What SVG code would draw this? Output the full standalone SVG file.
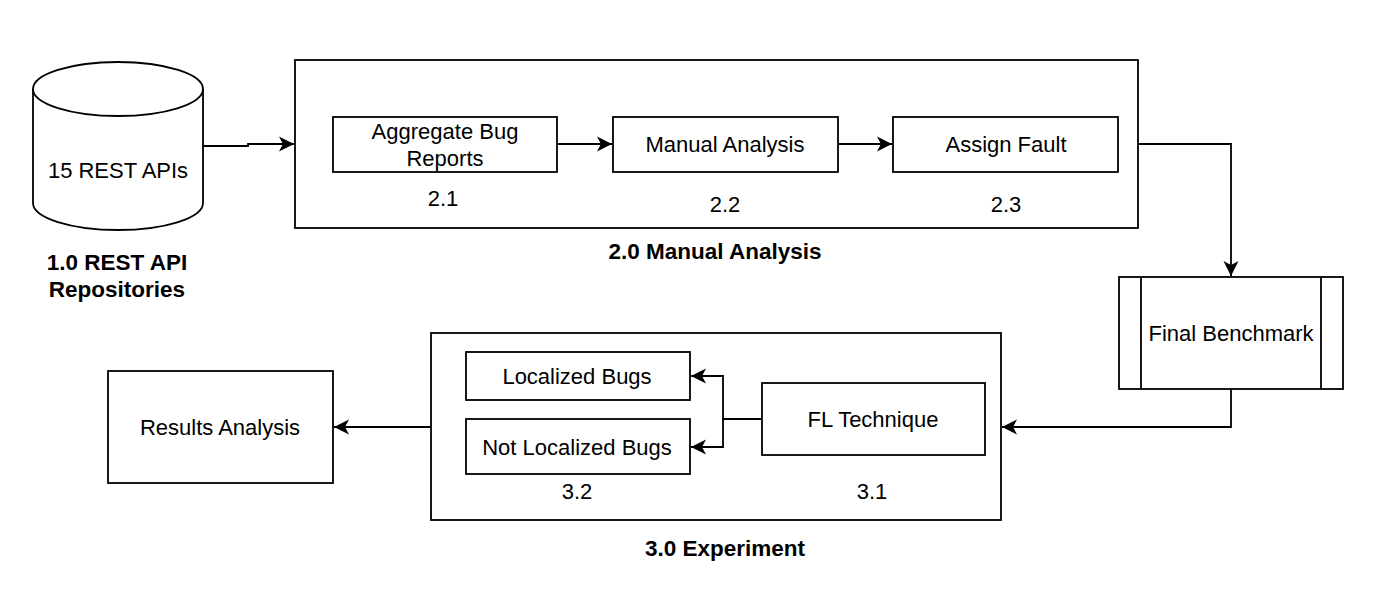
<svg xmlns="http://www.w3.org/2000/svg" width="1382" height="594" viewBox="0 0 1382 594">
<style>
.s{fill:#fff;stroke:#000;stroke-width:1.8}
.t{font-family:"Liberation Sans",Arial,sans-serif;font-size:22px;fill:#000;text-anchor:middle;dominant-baseline:central}
.b{font-weight:bold;font-size:22.5px}
.c{fill:none;stroke:#000;stroke-width:1.8}
</style>
<defs>
<marker id="a" markerUnits="userSpaceOnUse" markerWidth="17" markerHeight="16" refX="15" refY="8" orient="auto">
<path d="M0,0.5 L15,8 L0,15.5 L4,8 z" fill="#000"/>
</marker>
</defs>
<rect width="1382" height="594" fill="#fff"/>
<g id="repo">
<path class="s" d="M33,89 A85,27 0 0 1 203,89 V203 A85,27 0 0 1 33,203 Z"/>
<path class="c" d="M33,89 A85,27 0 0 0 203,89"/>
<text class="t" x="118" y="170">15 REST APIs</text>
<text class="t b" x="117" y="262">1.0 REST API</text>
<text class="t b" x="117" y="289">Repositories</text>
</g>
<g id="manual">
<rect class="s" x="295" y="60" width="843" height="168"/>
<text class="t b" x="715" y="251">2.0 Manual Analysis</text>
</g>
<g id="aggregate">
<rect class="s" x="333" y="117" width="224" height="55"/>
<text class="t" x="445" y="131">Aggregate Bug</text>
<text class="t" x="445" y="158">Reports</text>
<text class="t" x="443" y="198">2.1</text>
</g>
<g id="manualanalysis">
<rect class="s" x="613" y="117" width="225" height="55"/>
<text class="t" x="725" y="144">Manual Analysis</text>
<text class="t" x="725" y="204">2.2</text>
</g>
<g id="assign">
<rect class="s" x="893" y="117" width="225" height="55"/>
<text class="t" x="1006" y="144">Assign Fault</text>
<text class="t" x="1006" y="204">2.3</text>
</g>
<g id="benchmark">
<rect class="s" x="1119" y="277" width="224" height="112"/>
<path class="c" d="M1141,277 V389 M1321,277 V389"/>
<text class="t" x="1231" y="333">Final Benchmark</text>
</g>
<g id="experiment">
<rect class="s" x="431" y="333" width="570" height="187"/>
<text class="t b" x="725" y="548">3.0 Experiment</text>
</g>
<g id="localized">
<rect class="s" x="466" y="352" width="224" height="48"/>
<text class="t" x="577" y="376">Localized Bugs</text>
</g>
<g id="notlocalized">
<rect class="s" x="466" y="419" width="224" height="55"/>
<text class="t" x="577" y="447">Not Localized Bugs</text>
<text class="t" x="577" y="491">3.2</text>
</g>
<g id="fl">
<rect class="s" x="762" y="383" width="223" height="72"/>
<text class="t" x="873" y="419">FL Technique</text>
<text class="t" x="872" y="491">3.1</text>
</g>
<g id="results">
<rect class="s" x="108" y="371" width="225" height="112"/>
<text class="t" x="220" y="427">Results Analysis</text>
</g>
<g id="connectors">
<path class="c" d="M203,146 H248 V144 H294" marker-end="url(#a)"/>
<path class="c" d="M557,144 H612" marker-end="url(#a)"/>
<path class="c" d="M838,144 H892" marker-end="url(#a)"/>
<path class="c" d="M1138,144 H1231 V276" marker-end="url(#a)"/>
<path class="c" d="M1231,389 V427 H1002" marker-end="url(#a)"/>
<path class="c" d="M762,419 H723 V376 H691" marker-end="url(#a)"/>
<path class="c" d="M723,419 V447 H691" marker-end="url(#a)"/>
<path class="c" d="M431,427 H334" marker-end="url(#a)"/>
</g>
</svg>
